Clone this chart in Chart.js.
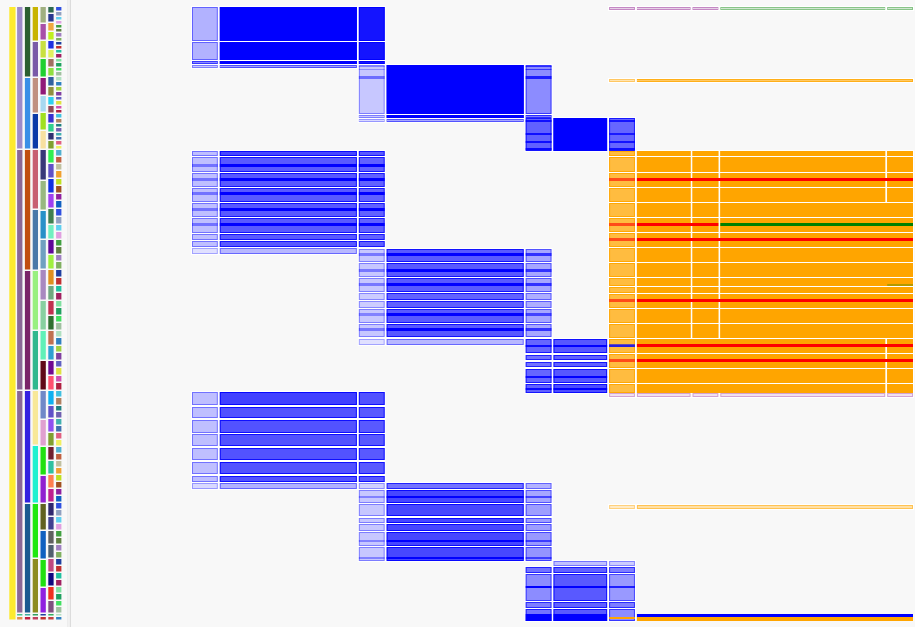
<!DOCTYPE html>
<html>
<head>
<meta charset="utf-8">
<script src="https://cdn.jsdelivr.net/npm/chart.js@4.4.1/dist/chart.umd.min.js"></script>
<style>
  html, body { margin: 0; padding: 0; background: #f8f8f8; }
  #wrap { width: 915px; height: 627px; }
</style>
</head>
<body>
<div id="wrap"><canvas id="chart"></canvas></div>
<script>
// ---- matrix columns (leaf counts per column group) ----
const colWidths = [1, 5, 1, 5, 1, 2, 1, 2, 1, 6, 1];

// ---- hierarchy on the left: row breaks per level ----
const treeBreaks = [
  [7, 621],
  [7, 150, 391, 614, 617, 621],
  [7, 78, 150, 271, 391, 504, 614, 617, 621],
  [7, 42, 78, 114, 150, 210, 271, 331, 391, 446, 504, 559, 614, 617, 621],
  [7, 24, 41, 59, 78, 96, 113, 131, 150, 181, 211, 240, 270, 301, 331, 361, 391, 420, 447, 476, 504, 531, 560, 588, 614, 617, 621],
  [7, 14, 23, 32, 41, 50, 59, 68, 77, 87, 97, 106, 114, 124, 133, 141, 150, 164, 179, 194, 209, 225, 240, 255, 270, 286,
   301, 316, 331, 346, 361, 376, 391, 406, 419, 433, 447, 461, 475, 489, 503, 517, 531, 545, 559, 573, 587, 601, 614, 617, 621],
  [7, 12, 17, 21, 25, 29, 33, 38, 42, 46, 50, 54, 59, 63, 68, 72, 77, 82, 87, 92, 97, 101, 106, 110, 114, 119, 124, 128,
   133, 137, 141, 146, 150, 157, 164, 171, 179, 186, 194, 201, 209, 217, 225, 232, 240, 247, 255, 262, 270, 278, 286, 293,
   301, 308, 316, 323, 331, 338, 346, 353, 361, 368, 376, 383, 391, 398, 406, 412, 419, 426, 433, 440, 447, 454, 461, 468,
   475, 482, 489, 496, 503, 510, 517, 524, 531, 538, 545, 552, 559, 566, 573, 580, 587, 594, 601, 607, 614, 617, 621]
];

// ---- blue diagonal blocks: first column of each block, then its row bands [top, bottom, w0, w1, w2] ----
const blockCol = [0, 2, 4, 0, 2, 4, 0, 2, 4];
const blockA = [[7, 41, .3, 1, .92], [42, 60, .3, 1, .92], [61, 64, .45, 1, .92], [65, 68, .22, .38, 0]];
const blockB = [[65, 114, .22, 1, .45], [115, 118, .22, 1, .5], [119, 122, .15, .35, 0]];
const blockC = [[118, 151, .62, 1, .6]];
const blockD = [[151, 156, .25, .72, .65], [157, 172, .25, .65, .62], [173, 187, .25, .65, .62], [188, 202, .25, .65, .62],
  [203, 217, .25, .65, .62], [218, 233, .25, .65, .62], [234, 240, .25, .65, .62], [241, 247, .25, .65, .62], [248, 254, .12, .28, 0]];
const blockE = [[249, 262, .22, .65, .35], [263, 277, .22, .65, .35], [278, 292, .22, .65, .35], [293, 300, .2, .62, .32],
  [301, 308, .2, .62, .32], [309, 323, .22, .65, .35], [324, 337, .22, .65, .35], [339, 345, .12, .28, 0]];
const blockF = [[339, 353, .6, .66, 0], [355, 360, .55, .62, 0], [362, 367, .55, .62, 0], [369, 383, .6, .66, 0], [384, 393, .62, .7, 0]];
const blockG = [[392, 405, .25, .75, .68], [407, 418, .25, .68, .65], [420, 433, .25, .68, .65], [434, 446, .25, .68, .65],
  [448, 460, .25, .68, .65], [462, 474, .25, .68, .65], [476, 482, .25, .68, .65], [483, 489, .15, .3, 0]];
const blockH = [[483, 489, .18, .55, .3], [490, 503, .22, .72, .35], [504, 516, .22, .72, .38], [518, 523, .22, .72, .38],
  [524, 531, .22, .72, .38], [532, 546, .22, .72, .4], [547, 561, .22, .72, .42]];
const blockI = [[561, 566, 0, .25, .2], [567, 573, .55, .62, .5], [574, 601, .45, .65, .4], [602, 608, .5, .62, .5], [609, 621, .55, .65, .45]];
const blueBlocks = [blockA, blockB, blockC, blockD, blockE, blockF, blockG, blockH, blockI];

// darker sub-rows inside blue cells [firstCol, top, bottom, w0, w1, w2]
const blueStripes = [
  [2, 66, 66, .35, 0, .7], [2, 69, 69, .3, 0, .6], [2, 76, 78, .45, 0, .8],
  [4, 120, 121, .85, 0, .8], [4, 133, 134, .85, 0, .75], [4, 141, 142, .85, 0, .8], [4, 148, 149, .9, 0, .85],
  [0, 164, 166, .4, 1, 1], [0, 178, 180, .4, 1, 1], [0, 192, 194, .4, 1, 1], [0, 208, 210, .4, 1, 1], [0, 223, 225, .4, 1, 1],
  [2, 253, 255, .4, 1, .7], [2, 269, 271, .4, 1, .7], [2, 283, 285, .4, 1, .7], [2, 313, 315, .35, 1, .6], [2, 328, 330, .4, 1, .7],
  [4, 345, 346, .9, 1, .6], [4, 376, 377, .9, 1, 0], [4, 388, 389, .9, 1, 0],
  [2, 496, 497, .35, 1, .6], [2, 540, 541, .35, 1, .6], [2, 557, 558, .35, 1, .6],
  [4, 586, 587, 1, 1, .8], [4, 614, 620, 1, 1, 0]
];

// ---- orange block ----
const orangeRows = [[151, 156], [157, 172], [173, 187], [188, 202], [203, 217], [218, 232], [233, 247], [248, 262], [263, 277],
  [278, 286], [287, 293], [294, 308], [309, 323], [324, 338], [339, 353], [354, 368], [369, 383], [384, 393]];
const orangeSplit = [0, 0, 0, 0, 1, 1, 1, 1, 1, 1, 1, 1, 1, 1, 2, 2, 2, 2];
const orangeGroups = [
  [[6, 7], [7, 8], [8, 9], [9, 10], [10, 11]],
  [[6, 7], [7, 8], [8, 9], [9, 11]],
  [[6, 7], [7, 10], [10, 11]]
];
// thin coloured rows drawn over the cells [top, bottom, fromCol, toCol, colour, weight]
const lineRows = [
  [178, 180, 6, 7, 'red', .6], [178, 180, 7, 11, 'red', 1],
  [223, 225, 6, 7, 'red', .6], [223, 225, 7, 9, 'red', 1], [223, 225, 9, 11, 'green', 1],
  [238, 240, 6, 7, 'red', .6], [238, 240, 7, 11, 'red', 1],
  [299, 301, 6, 7, 'red', .6], [299, 301, 7, 11, 'red', 1],
  [284, 285, 10, 11, 'green', .3],
  [344, 346, 6, 7, 'blue', .6], [344, 346, 7, 11, 'red', 1],
  [359, 361, 6, 7, 'red', .6], [359, 361, 7, 11, 'red', 1],
  [617, 618, 6, 7, 'orange', 1],
  [614, 616, 7, 11, 'blue', 1], [617, 620, 7, 11, 'orange', 1]
];
// isolated strips [top, bottom, fromCol, toCol, colour, weight]
const stripCells = [
  [7, 10, 6, 7, 'purple', .19], [7, 10, 7, 8, 'purple', .19], [7, 10, 8, 9, 'purple', .19],
  [7, 10, 9, 10, 'green', .19], [7, 10, 10, 11, 'green', .19],
  [79, 82, 6, 7, 'orange', .3], [79, 82, 7, 11, 'orange', .6],
  [393, 397, 6, 7, 'purple', .12], [393, 397, 7, 8, 'purple', .12], [393, 397, 8, 9, 'purple', .12],
  [393, 397, 9, 10, 'purple', .12], [393, 397, 10, 11, 'purple', .12],
  [505, 509, 6, 7, 'orange', .22], [505, 509, 7, 11, 'orange', .35]
];

// ---- styles ----
const treeColors = [
  ['#fdea2e'],
  ['#9d8bc9', '#8b6896', '#8b6896', '#45c08a', '#e09050'],
  ['#2b5f30', '#3a8fe6', '#c04e10', '#7a2468', '#3320e0', '#1a5a90', '#40b0a0', '#c02040'],
  ['#c8b400', '#7a5aa8', '#c09080', '#0a3aa8', '#c86070', '#4a78a8', '#98f080', '#30b88e', '#f8e898', '#20f0d0',
   '#20e810', '#8c8c20', '#30a060', '#c04060'],
  ['#a0b080', '#a850a8', '#c8e040', '#20d030', '#901878', '#a8d8f0', '#a0e020', '#f8e0a0', '#383878', '#98b880',
   '#2890c8', '#70a0c0', '#a888c0', '#88d0a0', '#60f0b8', '#600818', '#7088c8', '#e0a0d0', '#20e010', '#9020d0',
   '#606020', '#1060c0', '#20e010', '#9020e0', '#2040a0', '#c03030'],
  ['#2e6a4e', '#283890', '#f0a840', '#c0f020', '#2030e0', '#e0f060', '#a07060', '#90e040', '#3060a0', '#909040',
   '#30d0f0', '#904858', '#3830d0', '#30d090', '#303070', '#80a030', '#30f050', '#6050c8', '#1030e0', '#a040f0',
   '#408050', '#70f0c0', '#600898', '#a0f040', '#e09020', '#70a880', '#c03050', '#307030', '#c07050', '#30a0d0',
   '#700890', '#ff5070', '#10b0f0', '#6050c8', '#9050f0', '#80a030', '#702030', '#30c0a0', '#ff8050', '#c02090',
   '#302870', '#404090', '#606060', '#506070', '#c04880', '#100880', '#f03020', '#805080', '#30b060', '#c04040']
];
const leafPalette = ['#3050e0', '#b02040', '#a080c0', '#4070b0', '#80e0a0', '#f0a030', '#a0d040', '#90a0c0', '#40c0e0',
  '#80b060', '#e06080', '#20a060', '#c0e020', '#8040a0', '#60d0f0', '#b08060', '#2040a0', '#f0f060', '#40e060', '#a05020',
  '#6060c0', '#e0a0e0', '#208080', '#c03030', '#50b0d0', '#a0c0a0', '#9020a0', '#e0e040', '#40a040', '#7060b0', '#20c0a0',
  '#c06040', '#b0e0c0', '#1060c0', '#d050b0', '#608040', '#40b0b0', '#a02060', '#c0c0a0', '#3080c0'];
const rgb = { blue: '0,0,255', orange: '255,165,0', red: '255,0,0', green: '0,128,0', purple: '128,0,128' };

const colEdges = colWidths.reduce((a, w) => (a.push(a[a.length - 1] + w), a), [0]);

const matrixPlugin = {
  id: 'matrix',
  beforeDraw(chart) {
    const { ctx, width, height } = chart;
    ctx.save();
    ctx.fillStyle = '#f8f8f8';
    ctx.fillRect(0, 0, width, height);
    ctx.restore();
  },
  afterDatasetsDraw(chart) {
    const { ctx, scales: { x, xt, y } } = chart;
    const px = (c) => x.getPixelForValue(colEdges[c]);
    const py = (r) => y.getPixelForValue(r);

    ctx.save();

    // hierarchy columns
    treeBreaks.forEach((breaks, level) => {
      const left = xt.getPixelForValue(level);
      const right = xt.getPixelForValue(level + (level === 0 ? 0.8 : 0.68));
      for (let i = 0; i < breaks.length - 1; i++) {
        ctx.fillStyle = level < treeColors.length
          ? treeColors[level][i % treeColors[level].length]
          : leafPalette[(i * 7) % leafPalette.length];
        const top = py(breaks[i]);
        const bottom = py(breaks[i + 1]) - 1.5;
        ctx.fillRect(left, top, right - left, Math.max(1, bottom - top));
      }
    });

    // separator between hierarchy and matrix
    ctx.fillStyle = '#e6e6e6';
    ctx.fillRect(xt.getPixelForValue(7.45), 0, 1, chart.height);
    ctx.fillStyle = '#d2d2d2';
    ctx.fillRect(xt.getPixelForValue(7.75), 0, 1, chart.height);

    const cells = [];
    const addCell = (c0, c1, r0, r1, color, w) => cells.push({ c0, c1, r0, r1, color, w });

    blueBlocks.forEach((bands, b) => {
      const first = blockCol[b];
      bands.forEach((band) => {
        for (let k = 0; k < 3; k++) {
          if (band[2 + k] > 0) addCell(first + k, first + k + 1, band[0], band[1], 'blue', band[2 + k]);
        }
      });
    });
    orangeRows.forEach((row, i) => {
      orangeGroups[orangeSplit[i]].forEach(([c0, c1]) => addCell(c0, c1, row[0], row[1], 'orange', c0 === 6 ? .75 : 1));
    });
    stripCells.forEach((s) => addCell(s[2], s[3], s[0], s[1], s[4], s[5]));

    // white halo first, then fills
    ctx.fillStyle = '#ffffff';
    cells.forEach((c) => {
      ctx.fillRect(px(c.c0), py(c.r0) - 1, px(c.c1) - px(c.c0), py(c.r1) - py(c.r0) + 2);
    });
    cells.forEach((c) => {
      const l = px(c.c0) + 1, r = px(c.c1) - 1, t = py(c.r0), b = Math.max(py(c.r1), t + 1);
      ctx.fillStyle = `rgba(${rgb[c.color]},${c.w})`;
      ctx.fillRect(l, t, r - l, b - t);
      if (b - t > 2) {
        ctx.strokeStyle = `rgba(${rgb[c.color]},${Math.min(1, c.w + 0.15)})`;
        ctx.lineWidth = 1;
        ctx.strokeRect(l + 0.5, t + 0.5, r - l - 1, b - t - 1);
      }
    });

    // sub-rows inside cells
    blueStripes.forEach((s) => {
      for (let k = 0; k < 3; k++) {
        if (s[3 + k] <= 0) continue;
        const l = px(s[0] + k) + 1, r = px(s[0] + k + 1) - 1;
        ctx.fillStyle = `rgba(0,0,255,${s[3 + k]})`;
        ctx.fillRect(l, py(s[1]), r - l, py(s[2] + 1) - py(s[1]));
      }
    });
    lineRows.forEach((s) => {
      const l = px(s[2]) + 1, r = px(s[3]) - 1;
      ctx.fillStyle = `rgba(${rgb[s[4]]},${s[5]})`;
      ctx.fillRect(l, py(s[0]), r - l, py(s[1] + 1) - py(s[0]));
    });

    ctx.restore();
  }
};

const unit = 723 / 26;
const xMin = -191 / unit;
const treeUnit = 7.8;
const xtMin = -9.3 / treeUnit;

new Chart(document.getElementById('chart'), {
  type: 'scatter',
  data: { datasets: [] },
  options: {
    responsive: true,
    maintainAspectRatio: false,
    animation: false,
    devicePixelRatio: 1,
    layout: { padding: 0 },
    plugins: { legend: { display: false }, tooltip: { enabled: false } },
    scales: {
      x: { type: 'linear', display: false, min: xMin, max: xMin + 915 / unit },
      xt: { type: 'linear', axis: 'x', display: false, min: xtMin, max: xtMin + 915 / treeUnit },
      y: { type: 'linear', display: false, reverse: true, min: 0, max: 627 }
    }
  },
  plugins: [matrixPlugin]
});
</script>
</body>
</html>
